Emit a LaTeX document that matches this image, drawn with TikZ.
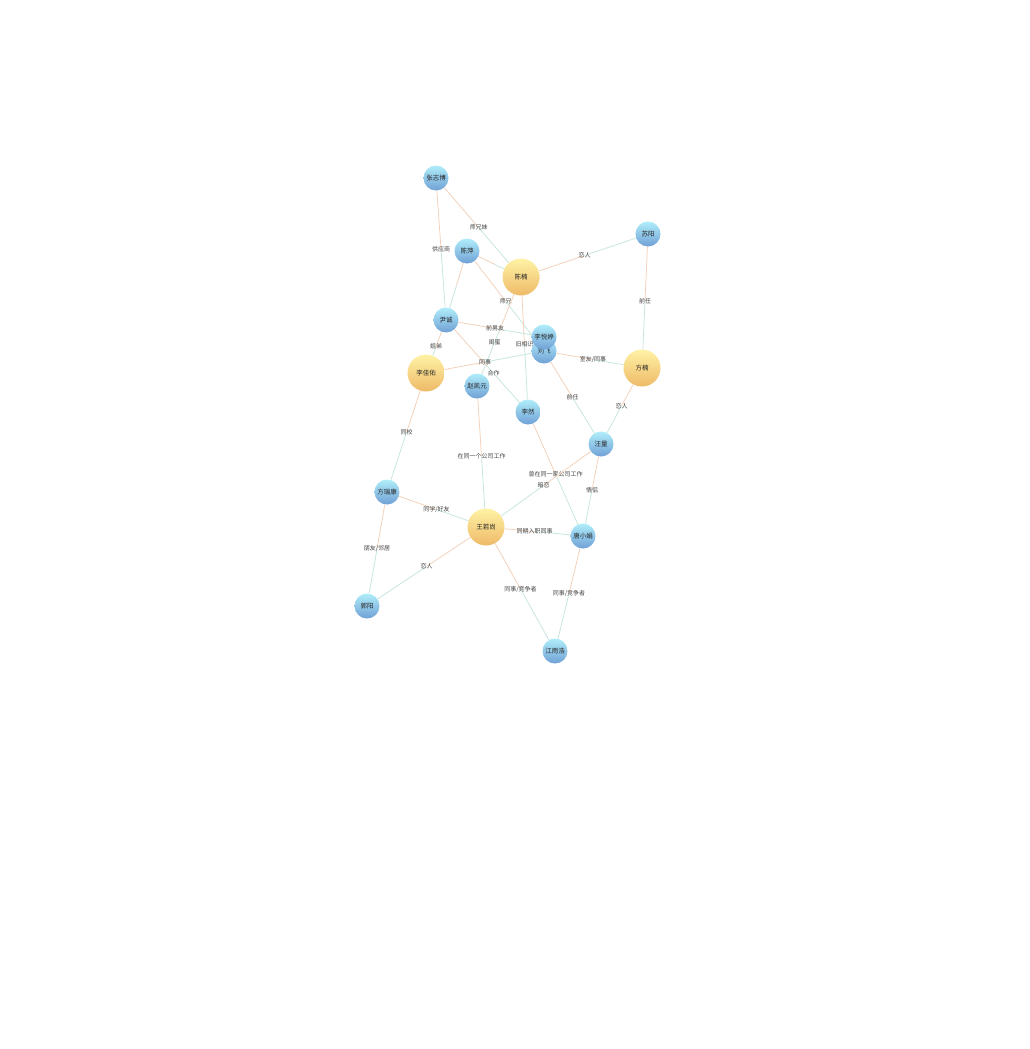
\documentclass[tikz,border=0pt]{standalone}
\usepackage{fontspec}
\newfontfamily\cjk{Noto Sans CJK SC}
\usepackage{xcolor}
\usetikzlibrary{calc,backgrounds}

\definecolor{nodeblue}{RGB}{112,160,214}
\definecolor{nodecyan}{RGB}{176,238,250}
\definecolor{nodeyellow}{RGB}{255,242,165}
\definecolor{nodeorange}{RGB}{238,186,104}
\definecolor{linkorange}{RGB}{244,208,184}
\definecolor{linkteal}{RGB}{198,230,220}
\definecolor{labelgray}{RGB}{70,70,70}

\tikzset{
  minor/.style={circle,minimum size=25pt,inner sep=0pt,top color=nodecyan,bottom color=nodeblue,
    font=\cjk\fontsize{6.5}{7}\selectfont,text=black!85},
  major/.style={minor,minimum size=37pt,top color=nodeyellow,bottom color=nodeorange},
  linksrc/.style={draw=linkorange,line width=0.75pt},
  linktgt/.style={draw=linkteal,line width=0.75pt},
  rellabel/.style={font=\cjk\fontsize{6}{7}\selectfont,text=labelgray,inner sep=1pt}
}

% edge: orange half at the source, teal half at the target
\newcommand{\link}[2]{%
  \draw[linksrc] (#1) -- ($(#1)!0.5!(#2)$);
  \draw[linktgt] ($(#1)!0.5!(#2)$) -- (#2);}
\newcommand{\rel}[4][0.5]{%
  \link{#2}{#3}
  \node[rellabel] at ($(#2)!#1!(#3)$) {#4};}

\begin{document}
\begin{tikzpicture}[x=1pt,y=-1pt]

\useasboundingbox (0,0) rectangle (1030,1049);

% Main characters
\node[major] (chennan) at (521,277) {陈楠};
\node[major] (lijiayou) at (426,373) {李佳佑};
\node[major] (fangnan) at (642,368) {方楠};
\node[major] (wangruoshang) at (486,527) {王若尚};

% Other characters
\node[minor] (zhangzhibo) at (436,178) {张志博};
\node[minor] (chenping) at (467,251) {陈萍};
\node[minor] (suyang) at (648,234) {苏阳};
\node[minor] (yincheng) at (446,320) {尹诚};
\node[minor] (liufei) at (544,351) {刘飞};
\node[minor] (liyueting) at (544,337) {李悦婷};
\node[minor] (zhaokaiyuan) at (477,386) {赵凯元};
\node[minor] (liran) at (528,412) {李然};
\node[minor] (wangliang) at (601,444) {汪量};
\node[minor] (fangruikang) at (387,492) {方瑞康};
\node[minor] (tangxiaojuan) at (583,536) {唐小娟};
\node[minor] (guoyang) at (367,606) {郭阳};
\node[minor] (jiangyuhao) at (555,651) {江雨浩};

% Relations
\begin{scope}[on background layer]
\fill[white] (0,0) rectangle (1030,1049);
\rel{zhangzhibo}{chennan}{师兄妹}
\rel{zhangzhibo}{yincheng}{供应商}
\link{chenping}{chennan}
\link{chenping}{yincheng}
\rel{chenping}{liufei}{师兄}
\rel{chennan}{suyang}{恋人}
\rel{suyang}{fangnan}{前任}
\rel[0.6]{chennan}{zhaokaiyuan}{闺蜜}
\rel{chennan}{liran}{旧相识}
\rel{yincheng}{liyueting}{前男友}
\rel{yincheng}{lijiayou}{姐弟}
\rel[0.58]{yincheng}{liran}{合作}
\rel{lijiayou}{liufei}{同事}
\rel{liufei}{fangnan}{室友/同事}
\rel{liufei}{wangliang}{前任}
\rel{fangnan}{wangliang}{恋人}
\rel{lijiayou}{fangruikang}{同校}
\rel{zhaokaiyuan}{wangruoshang}{在同一个公司工作}
\rel{liran}{tangxiaojuan}{曾在同一家公司工作}
\rel{wangliang}{wangruoshang}{暗恋}
\rel{wangliang}{tangxiaojuan}{情侣}
\rel{fangruikang}{wangruoshang}{同学/好友}
\rel{fangruikang}{guoyang}{朋友/邻居}
\rel{wangruoshang}{guoyang}{恋人}
\rel{wangruoshang}{tangxiaojuan}{同期入职同事}
\rel{wangruoshang}{jiangyuhao}{同事/竞争者}
\rel{tangxiaojuan}{jiangyuhao}{同事/竞争者}
\end{scope}

\end{tikzpicture}
\end{document}
